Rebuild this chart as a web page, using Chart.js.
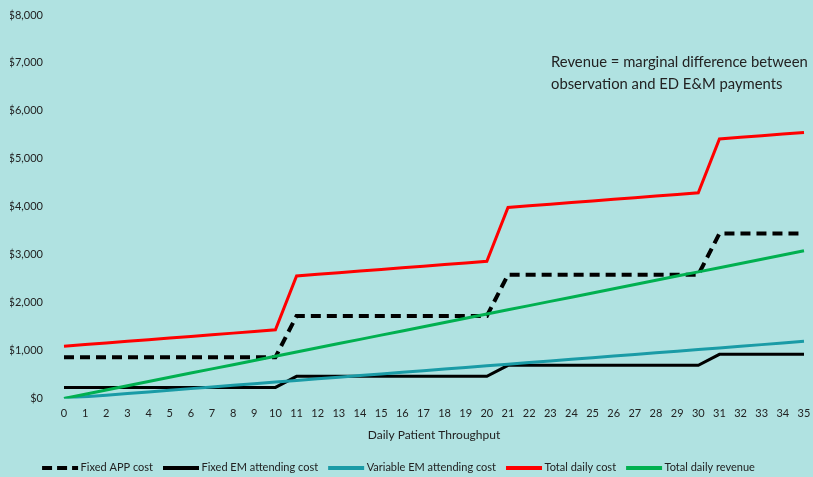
<!DOCTYPE html>
<html>
<head>
<meta charset="utf-8">
<script src="https://cdn.jsdelivr.net/npm/chart.js@4/dist/chart.umd.min.js"></script>
<style>
  html, body { margin: 0; padding: 0; background: #b0e2e1; }
  #wrap { width: 813px; height: 477px; }
</style>
</head>
<body>
<div id="wrap"><canvas id="costChart"></canvas></div>
<script>
// Daily patient throughput 0..35
const throughput = ['0','1','2','3','4','5','6','7','8','9','10','11','12','13','14','15','16','17','18','19','20','21','22','23','24','25','26','27','28','29','30','31','32','33','34','35'];

const fixedAppCost = [860,860,860,860,860,860,860,860,860,860,860,1720,1720,1720,1720,1720,1720,1720,1720,1720,1720,2580,2580,2580,2580,2580,2580,2580,2580,2580,2580,3440,3440,3440,3440,3440];

const fixedEmCost = [230,230,230,230,230,230,230,230,230,230,230,460,460,460,460,460,460,460,460,460,460,690,690,690,690,690,690,690,690,690,690,920,920,920,920,920];

const variableEmCost = [0,34,68,102,136,170,204,238,272,306,340,374,408,442,476,510,544,578,612,646,680,714,748,782,816,850,884,918,952,986,1020,1054,1088,1122,1156,1190];

const totalDailyCost = [1090,1124,1158,1192,1226,1260,1294,1328,1362,1396,1430,2554,2588,2622,2656,2690,2724,2758,2792,2826,2860,3984,4018,4052,4086,4120,4154,4188,4222,4256,4290,5414,5448,5482,5516,5550];

const totalDailyRevenue = [0,88,176,264,352,440,528,616,704,792,880,968,1056,1144,1232,1320,1408,1496,1584,1672,1760,1848,1936,2024,2112,2200,2288,2376,2464,2552,2640,2728,2816,2904,2992,3080];

const noteLines = ['Revenue = marginal difference between', 'observation and ED E&M payments'];

const FONT = 'Lato, "Open Sans", sans-serif';
const TEXT = '#222222';
const LEGEND_LINE = 36;
const LEGEND_SHIFT = 13;

const mkLine = (label, data, color, width, dash, order) => ({
    label: label,
    data: data,
    borderColor: color,
    backgroundColor: color,
    borderWidth: width,
    borderDash: dash,
    pointRadius: 0,
    pointHoverRadius: 0,
    tension: 0,
    fill: false,
    order: order
});

// note text in the upper right
const notePlugin = {
    id: 'note',
    afterDraw(chart) {
        const ctx = chart.ctx;
        ctx.save();
        ctx.font = '14.8px ' + FONT;
        ctx.fillStyle = TEXT;
        ctx.textAlign = 'left';
        ctx.textBaseline = 'alphabetic';
        noteLines.forEach((t, i) => ctx.fillText(t, 551, 67 + i * 22));
        ctx.restore();
    }
};

// nudge the legend a bit left, like the original
const legendShiftPlugin = {
    id: 'legendShift',
    afterUpdate(chart) {
        const lg = chart.legend;
        if (!lg || !lg.legendHitBoxes) return;
        lg.left -= LEGEND_SHIFT;
        lg.right -= LEGEND_SHIFT;
        lg.legendHitBoxes.forEach(h => { h.left -= LEGEND_SHIFT; });
    }
};

// legend line samples, drawn at the legend's own hit boxes
const legendLinePlugin = {
    id: 'legendLines',
    afterDraw(chart) {
        const lg = chart.legend;
        if (!lg || !lg.legendHitBoxes) return;
        const ctx = chart.ctx;
        ctx.save();
        lg.legendItems.forEach((it, i) => {
            const hb = lg.legendHitBoxes[i];
            const ds = chart.data.datasets[it.datasetIndex];
            const cy = Math.round(hb.top + hb.height / 2);
            ctx.beginPath();
            ctx.setLineDash(ds.borderDash && ds.borderDash.length ? [10, 5] : []);
            ctx.lineWidth = 4;
            ctx.lineCap = 'butt';
            ctx.strokeStyle = ds.borderColor;
            ctx.moveTo(hb.left, cy);
            ctx.lineTo(hb.left + LEGEND_LINE, cy);
            ctx.stroke();
        });
        ctx.restore();
    }
};

// legend items in dataset order, box left empty (drawn by plugin above)
const legendLabels = (chart) => {
    const items = Chart.defaults.plugins.legend.labels.generateLabels(chart);
    items.forEach(it => {
        it.lineWidth = 0;
        it.lineDash = [];
        it.strokeStyle = 'rgba(0,0,0,0)';
        it.fillStyle = 'rgba(0,0,0,0)';
    });
    return items.sort((a, b) => a.datasetIndex - b.datasetIndex);
};

const ctx = document.getElementById('costChart').getContext('2d');
const myChart = new Chart(ctx, {
    type: 'line',
    data: {
        labels: throughput,
        datasets: [
            mkLine('Fixed APP cost', fixedAppCost, '#000000', 4, [10, 6], 4),
            mkLine('Fixed EM attending cost', fixedEmCost, '#000000', 3, [], 3),
            mkLine('Variable EM attending cost', variableEmCost, '#1a9ba6', 3, [], 2),
            mkLine('Total daily cost', totalDailyCost, '#ff0000', 3, [], 1),
            mkLine('Total daily revenue', totalDailyRevenue, '#00b050', 3, [], 0)
        ]
    },
    options: {
        responsive: true,
        maintainAspectRatio: false,
        animation: false,
        layout: { padding: { left: 10, right: 0, top: 0, bottom: -6 } },
        plugins: {
            tooltip: { enabled: false },
            legend: {
                position: 'bottom',
                labels: {
                    boxWidth: 33,
                    boxHeight: 0,
                    padding: 10,
                    color: TEXT,
                    font: { family: FONT, size: 11 },
                    generateLabels: legendLabels
                }
            }
        },
        scales: {
            x: {
                offset: false,
                grid: { display: false, drawTicks: false },
                border: { display: false },
                afterFit: (axis) => { axis.paddingLeft = 0; axis.paddingRight = 9; },
                ticks: { color: TEXT, font: { family: FONT, size: 11 }, maxRotation: 0, autoSkip: false, padding: 8 },
                title: { display: true, text: 'Daily Patient Throughput', color: TEXT, font: { family: FONT, size: 12 }, padding: { top: 0, bottom: 10 } }
            },
            y: {
                min: 0,
                max: 8000,
                grid: { display: false, drawTicks: false },
                border: { display: false },
                afterFit: (axis) => { axis.width = 54; axis.paddingTop = 15; axis.paddingBottom = 0; },
                ticks: {
                    stepSize: 1000,
                    color: TEXT,
                    font: { family: FONT, size: 11 },
                    padding: 21,
                    callback: v => '$' + v.toLocaleString('en-US')
                }
            }
        }
    },
    plugins: [notePlugin, legendShiftPlugin, legendLinePlugin]
});
</script>
</body>
</html>
